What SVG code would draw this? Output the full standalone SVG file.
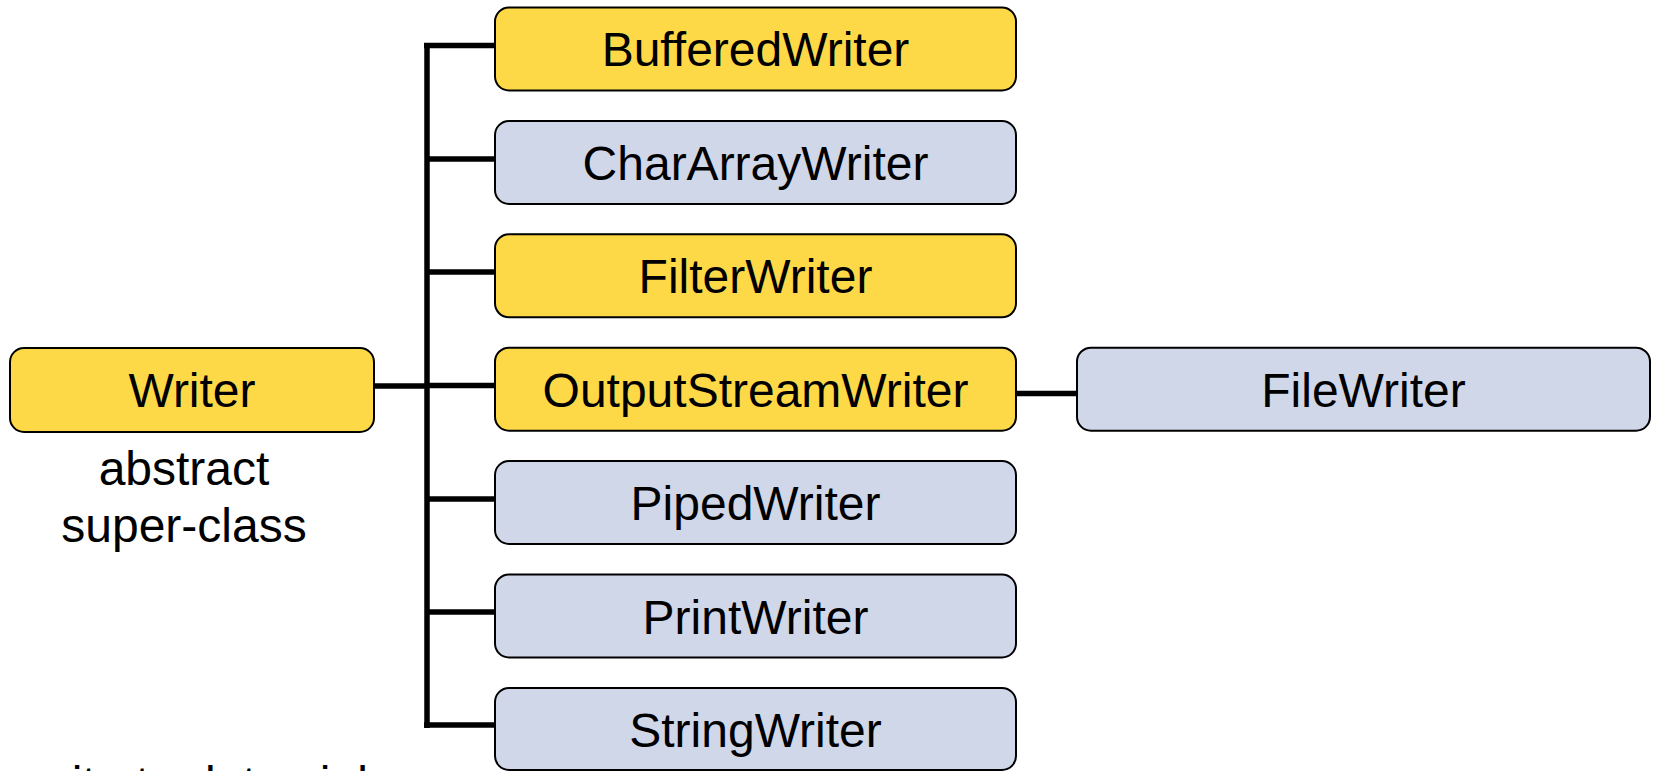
<svg xmlns="http://www.w3.org/2000/svg" width="1653" height="771" viewBox="0 0 1653 771">
<style>
.box{stroke:#000;stroke-width:2}
.y{fill:#FDD947}
.b{fill:#D0D7E9}
.t{font-family:"Liberation Sans",Arial,sans-serif;font-size:48px;fill:#000;text-anchor:middle}
.c{stroke:#000;stroke-width:5.5;fill:none}
</style>
<rect width="1653" height="771" fill="#fff"/>
<g id="connectors">
<path class="c" d="M427 43V728"/>
<path class="c" d="M374 386H427"/>
<path class="c" d="M424 45.5H495"/>
<path class="c" d="M427 159H495"/>
<path class="c" d="M427 272H495"/>
<path class="c" d="M427 385.5H495"/>
<path class="c" d="M427 499H495"/>
<path class="c" d="M427 612H495"/>
<path class="c" d="M424 725H497"/>
<path class="c" d="M1016 393.5H1077"/>
</g>
<g id="writer">
<rect class="box y" x="10" y="348" width="364" height="84" rx="14"/>
<text class="t" x="192" y="407">Writer</text>
</g>
<g id="writer-note">
<text class="t" x="184" y="485">abstract</text>
<text class="t" x="184" y="542">super-class</text>
</g>
<g id="bufferedwriter">
<rect class="box y" x="495" y="7.5" width="521" height="83" rx="14"/>
<text class="t" x="755.5" y="66">BufferedWriter</text>
</g>
<g id="chararraywriter">
<rect class="box b" x="495" y="121" width="521" height="83" rx="14"/>
<text class="t" x="755.5" y="180">CharArrayWriter</text>
</g>
<g id="filterwriter">
<rect class="box y" x="495" y="234.3" width="521" height="83" rx="14"/>
<text class="t" x="755.5" y="293">FilterWriter</text>
</g>
<g id="outputstreamwriter">
<rect class="box y" x="495" y="347.7" width="521" height="83" rx="14"/>
<text class="t" x="755.5" y="407">OutputStreamWriter</text>
</g>
<g id="pipedwriter">
<rect class="box b" x="495" y="461" width="521" height="83" rx="14"/>
<text class="t" x="755.5" y="520">PipedWriter</text>
</g>
<g id="printwriter">
<rect class="box b" x="495" y="574.5" width="521" height="83" rx="14"/>
<text class="t" x="755.5" y="633.5">PrintWriter</text>
</g>
<g id="stringwriter">
<rect class="box b" x="495" y="688" width="521" height="82" rx="14"/>
<text class="t" x="755.5" y="747">StringWriter</text>
</g>
<g id="filewriter">
<rect class="box b" x="1077" y="347.7" width="573" height="83" rx="14"/>
<text class="t" x="1363.5" y="407">FileWriter</text>
</g>
<g id="footer">
<text x="21" y="800" style="font-family:'Liberation Sans',Arial,sans-serif;font-size:48px;fill:#000">write to data sink</text>
</g>
</svg>
